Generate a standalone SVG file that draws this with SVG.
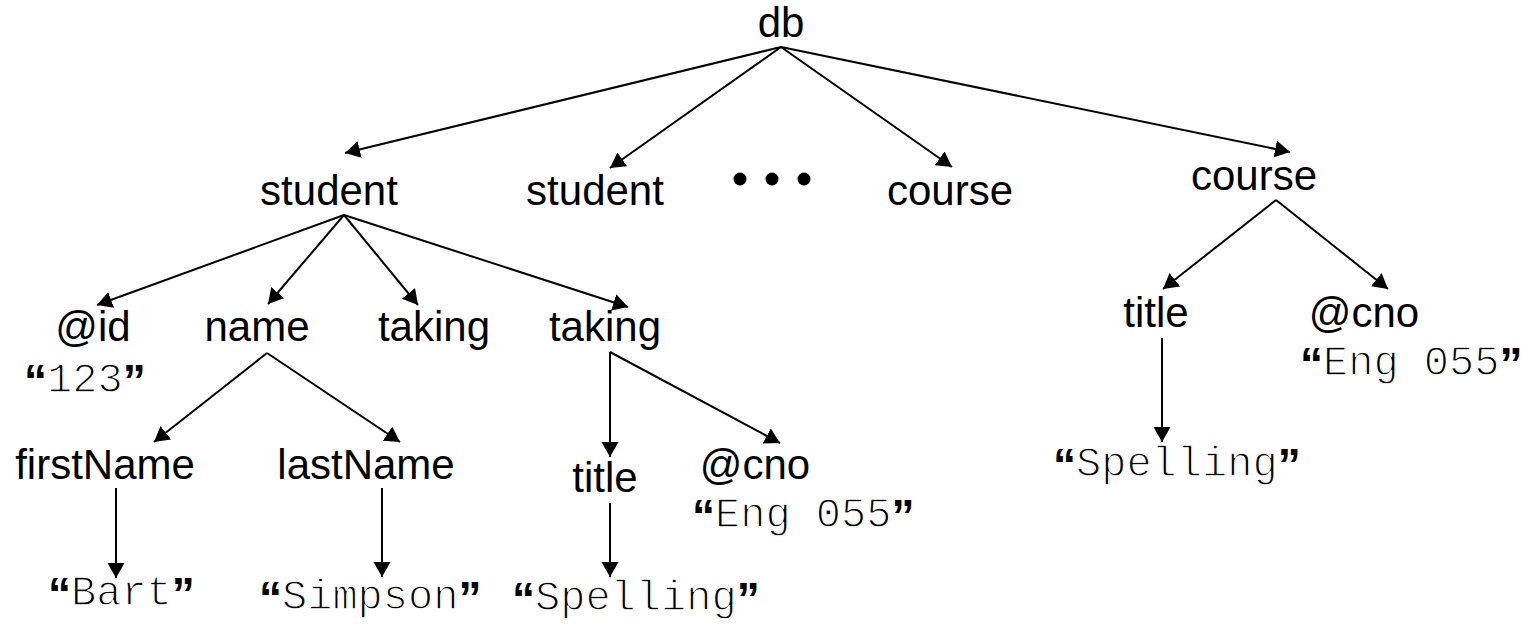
<svg xmlns="http://www.w3.org/2000/svg" width="1529" height="625" viewBox="0 0 1529 625">
  <style>
    .lbl { font-family: "Liberation Sans", Arial, sans-serif; font-size: 42px; fill: #000; text-anchor: middle; }
    /* monospaced values: a thin white outline keeps the strokes light */
    .val { font-family: "Liberation Mono", "Courier New", monospace; font-size: 42px; fill: #000; stroke: #fff; stroke-width: 1.3px; }
    .q { font-family: "Liberation Sans", Arial, sans-serif; font-size: 46px; font-weight: bold; stroke: none; }
    .edge { stroke: #000; stroke-width: 2; fill: none; marker-end: url(#arrow); }
  </style>
  <defs>
    <marker id="arrow" markerUnits="userSpaceOnUse" markerWidth="16" markerHeight="18" refX="15" refY="8.5" orient="auto">
      <path d="M0,0 L15,8.5 L0,17 z" fill="#000"/>
    </marker>
  </defs>
  <rect width="1529" height="625" fill="#fff"/>

  <!-- connectors -->
  <g id="connectors">
    <line class="edge" x1="781" y1="47" x2="345" y2="153"/>
    <line class="edge" x1="781" y1="47" x2="610" y2="168"/>
    <line class="edge" x1="781" y1="47" x2="952" y2="167"/>
    <line class="edge" x1="781" y1="47" x2="1290" y2="152"/>

    <line class="edge" x1="344" y1="215" x2="97" y2="305"/>
    <line class="edge" x1="344" y1="215" x2="268" y2="304"/>
    <line class="edge" x1="344" y1="215" x2="418" y2="305"/>
    <line class="edge" x1="344" y1="215" x2="628" y2="307"/>

    <line class="edge" x1="267" y1="353" x2="154" y2="442"/>
    <line class="edge" x1="267" y1="353" x2="400" y2="442"/>
    <line class="edge" x1="116" y1="488" x2="116" y2="578"/>
    <line class="edge" x1="382" y1="488" x2="382" y2="577"/>

    <line class="edge" x1="610" y1="352" x2="610" y2="457"/>
    <line class="edge" x1="610" y1="352" x2="780" y2="443"/>
    <line class="edge" x1="610" y1="503" x2="610" y2="577"/>

    <line class="edge" x1="1276" y1="200" x2="1163" y2="289"/>
    <line class="edge" x1="1276" y1="200" x2="1388" y2="289"/>
    <line class="edge" x1="1162" y1="338" x2="1162" y2="442"/>
  </g>

  <!-- element and attribute nodes -->
  <g id="db"><text class="lbl" x="781" y="37">db</text></g>
  <g id="student1"><text class="lbl" x="329" y="205">student</text></g>
  <g id="student2"><text class="lbl" x="595" y="205">student</text></g>
  <g id="ellipsis">
    <circle cx="740" cy="179" r="6.5"/>
    <circle cx="772" cy="179" r="6.5"/>
    <circle cx="804" cy="179" r="6.5"/>
  </g>
  <g id="course1"><text class="lbl" x="950" y="205">course</text></g>
  <g id="course2"><text class="lbl" x="1254" y="190">course</text></g>

  <g id="id-attr">
    <text class="lbl" x="93" y="341">@id</text>
    <text class="val" x="24" y="392"><tspan class="q" dy="5">“</tspan><tspan dy="-5">123</tspan><tspan class="q" dy="5">”</tspan></text>
  </g>
  <g id="name"><text class="lbl" x="257" y="341">name</text></g>
  <g id="taking1"><text class="lbl" x="434" y="341">taking</text></g>
  <g id="taking2"><text class="lbl" x="605" y="341">taking</text></g>

  <g id="firstName"><text class="lbl" x="105" y="479">firstName</text></g>
  <g id="lastName"><text class="lbl" x="366" y="479">lastName</text></g>
  <g id="bart">
    <text class="val" x="48" y="605"><tspan class="q" dy="5">“</tspan><tspan dy="-5">Bart</tspan><tspan class="q" dy="5">”</tspan></text>
  </g>
  <g id="simpson">
    <text class="val" x="259" y="609"><tspan class="q" dy="5">“</tspan><tspan dy="-5">Simpson</tspan><tspan class="q" dy="5">”</tspan></text>
  </g>

  <g id="title1"><text class="lbl" x="605" y="492">title</text></g>
  <g id="cno1">
    <text class="lbl" x="755" y="479">@cno</text>
    <text class="val" x="692" y="527"><tspan class="q" dy="5">“</tspan><tspan dy="-5">Eng 055</tspan><tspan class="q" dy="5">”</tspan></text>
  </g>
  <g id="spelling1">
    <text class="val" x="512" y="610"><tspan class="q" dy="5">“</tspan><tspan dy="-5">Spelling</tspan><tspan class="q" dy="5">”</tspan></text>
  </g>

  <g id="title2"><text class="lbl" x="1156" y="327">title</text></g>
  <g id="cno2">
    <text class="lbl" x="1364" y="327">@cno</text>
    <text class="val" x="1300" y="375"><tspan class="q" dy="5">“</tspan><tspan dy="-5">Eng 055</tspan><tspan class="q" dy="5">”</tspan></text>
  </g>
  <g id="spelling2">
    <text class="val" x="1053" y="476"><tspan class="q" dy="5">“</tspan><tspan dy="-5">Spelling</tspan><tspan class="q" dy="5">”</tspan></text>
  </g>
</svg>
